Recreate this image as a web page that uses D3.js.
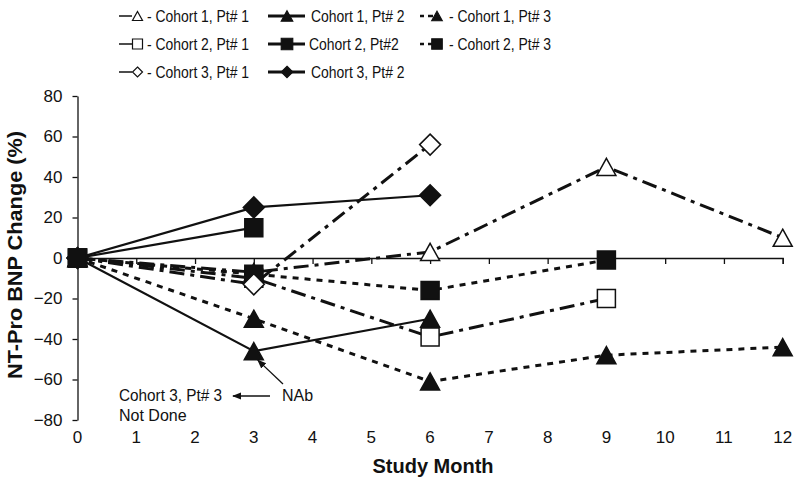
<!DOCTYPE html>
<html>
<head>
<meta charset="utf-8">
<script src="https://cdn.jsdelivr.net/npm/d3@7"></script>
<style>
  html, body { margin: 0; padding: 0; background: #fff; }
  svg { display: block; font-family: "Liberation Sans", Arial, sans-serif; }
</style>
</head>
<body>
<svg id="chart" width="800" height="485"></svg>
<script>
// ---- data ----
const months = [0, 3, 6, 9, 12];
const xTicks = [0, 1, 2, 3, 4, 5, 6, 7, 8, 9, 10, 11, 12];
const yTicks = [-80, -60, -40, -20, 0, 20, 40, 60, 80];

const c1p1 = [0, -7, 3, 45, 10];
const c1p2 = [0, -46, -30];
const c1p3 = [0, -30, -61, -48, -44];
const c2p1 = [0, -10, -39, -20];
const c2p2 = [0, 15];
const c2p3 = [0, -8, -16, -1];
const c3p1 = [0, -13, 56];
const c3p2 = [0, 25, 31];

const seriesLabels = ["Cohort 1, Pt# 1", "Cohort 1, Pt# 2", "Cohort 1, Pt# 3",
                      "Cohort 2, Pt# 1", "Cohort 2, Pt#2", "Cohort 2, Pt# 3",
                      "Cohort 3, Pt# 1", "Cohort 3, Pt# 2"];
const seriesValues = [c1p1, c1p2, c1p3, c2p1, c2p2, c2p3, c3p1, c3p2];
const seriesMarker = ["triangle", "triangle", "triangle", "square", "square", "square", "diamond", "diamond"];
const seriesFilled = [false, true, true, false, true, true, false, true];
const seriesStyle = ["dashdot", "solid", "dash", "dashdot", "solid", "dash", "dashdot", "solid"];

// ---- layout ----
const svg = d3.select("#chart");
const x = d3.scaleLinear().domain([0, 12]).range([77.5, 782.7]);
const y = d3.scaleLinear().domain([-80, 80]).range([420, 96]);
const ink = "#111";

const dashFor = { solid: null, dash: "6,6", dashdot: "15,6,4,6" };
const widthFor = { solid: 2.2, dash: 3, dashdot: 3 };

function markerPath(type, s) {
  if (type === "square") { const h = s / 2; return `M${-h},${-h}H${h}V${h}H${-h}Z`; }
  if (type === "triangle") { const w = s / 2, hh = s * 0.45; return `M0,${-hh}L${w},${hh}L${-w},${hh}Z`; }
  const d = s / 2; return `M0,${-d}L${d},0L0,${d}L${-d},0Z`;
}
const markerSize = { square: 18, triangle: 19, diamond: 21 };

// ---- axes ----
const gx = svg.append("g").attr("transform", `translate(0,${y(0)})`)
  .call(d3.axisBottom(x).tickValues(xTicks).tickSize(6).tickFormat(""));
gx.select(".domain").attr("stroke", ink).attr("stroke-width", 1.3);
gx.selectAll(".tick line").attr("stroke", ink).attr("stroke-width", 1.3);

svg.append("g").selectAll("text").data(xTicks).join("text")
  .attr("x", d => x(d)).attr("y", 443)
  .attr("text-anchor", "middle").attr("font-size", 17).attr("fill", ink)
  .text(d => d);

const gy = svg.append("g").attr("transform", `translate(${x(0)},0)`)
  .call(d3.axisLeft(y).tickValues(yTicks).tickSize(5).tickSizeOuter(0).tickPadding(10));
gy.select(".domain").attr("stroke", ink).attr("stroke-width", 1.3);
gy.selectAll(".tick line").attr("stroke", ink).attr("stroke-width", 1.3);
gy.selectAll(".tick text").attr("font-size", 17).attr("fill", ink)
  .attr("font-family", "\"Liberation Sans\", Arial, sans-serif");

svg.append("text").attr("transform", `translate(22,255) rotate(-90)`)
  .attr("text-anchor", "middle").attr("font-size", 20).attr("font-weight", "bold").attr("fill", ink)
  .attr("textLength", 248).attr("lengthAdjust", "spacingAndGlyphs")
  .text("NT-Pro BNP Change (%)");
svg.append("text").attr("x", 433).attr("y", 473)
  .attr("text-anchor", "middle").attr("font-size", 20).attr("font-weight", "bold").attr("fill", ink)
  .text("Study Month");

// ---- lines ----
const line = d3.line().x((d, i) => x(months[i])).y(d => y(d));
const drawOrder = [0, 3, 5, 1, 2, 4, 7, 6];
drawOrder.forEach(i => {
  svg.append("path").datum(seriesValues[i])
    .attr("d", line).attr("fill", "none").attr("stroke", ink)
    .attr("stroke-width", widthFor[seriesStyle[i]])
    .attr("stroke-dasharray", dashFor[seriesStyle[i]]);
});
// ---- markers ----
function drawMarkers(i, pts) {
  svg.append("g").selectAll("path").data(pts).join("path")
    .attr("transform", p => `translate(${x(months[p.k])},${y(p.v)})`)
    .attr("d", markerPath(seriesMarker[i], markerSize[seriesMarker[i]]))
    .attr("fill", seriesFilled[i] ? ink : "#fff")
    .attr("stroke", ink).attr("stroke-width", 1.5);
}
drawOrder.forEach(i => {
  drawMarkers(i, seriesValues[i].map((v, k) => ({ v, k })).filter(p => p.k > 0));
});
// baseline (month 0) markers: filled square ends up on top
[0, 3, 6, 2, 1, 7, 5, 4].forEach(i => {
  drawMarkers(i, [{ v: seriesValues[i][0], k: 0 }]);
});

// ---- annotation ----
svg.append("defs").append("marker").attr("id", "ah").attr("viewBox", "0 0 10 10")
  .attr("refX", 9).attr("refY", 5).attr("markerWidth", 7).attr("markerHeight", 7)
  .attr("orient", "auto-start-reverse")
  .append("path").attr("d", "M0,1L10,5L0,9Z").attr("fill", ink);
svg.append("text").attr("x", 282).attr("y", 401).attr("font-size", 16).attr("fill", ink).text("NAb");
svg.append("line").attr("x1", 270).attr("y1", 396).attr("x2", 233).attr("y2", 396)
  .attr("stroke", ink).attr("stroke-width", 1.3).attr("marker-end", "url(#ah)");
svg.append("line").attr("x1", 283).attr("y1", 384).attr("x2", x(3) + 4).attr("y2", y(-46) + 9)
  .attr("stroke", ink).attr("stroke-width", 1.3).attr("marker-end", "url(#ah)");
svg.append("text").attr("x", 119).attr("y", 401).attr("font-size", 16).attr("fill", ink)
  .attr("textLength", 103).attr("lengthAdjust", "spacingAndGlyphs").text("Cohort 3, Pt# 3");
svg.append("text").attr("x", 119).attr("y", 421).attr("font-size", 16).attr("fill", ink).text("Not Done");

// ---- legend ----
const legRowY = [16, 44, 72];
const legend = svg.append("g");
function legText(g, xx, yy, str) {
  g.append("text").attr("transform", `translate(${xx},${yy + 5.5}) scale(0.87,1)`)
    .attr("font-size", 16).attr("fill", ink).text(str);
}
seriesLabels.forEach((lab, i) => {
  const row = Math.floor(i / 3), col = i % 3;
  const cy = legRowY[row];
  const g = legend.append("g");
  const mfill = seriesFilled[i] ? ink : "#fff";
  if (col === 0) {
    g.append("line").attr("x1", 119).attr("x2", 132).attr("y1", cy).attr("y2", cy)
      .attr("stroke", ink).attr("stroke-width", 1.5);
    g.append("path").attr("transform", `translate(137.5,${cy})`)
      .attr("d", markerPath(seriesMarker[i], 10)).attr("fill", mfill).attr("stroke", ink).attr("stroke-width", 1.2);
    legText(g, 147, cy, "- " + lab);
  } else if (col === 1) {
    g.append("line").attr("x1", 268).attr("x2", 305).attr("y1", cy).attr("y2", cy)
      .attr("stroke", ink).attr("stroke-width", 3);
    g.append("path").attr("transform", `translate(287,${cy})`)
      .attr("d", markerPath(seriesMarker[i], 11.5)).attr("fill", mfill).attr("stroke", ink).attr("stroke-width", 1.2);
    legText(g, row === 1 ? 309 : 311, cy, lab);
  } else {
    g.append("line").attr("x1", 420).attr("x2", 424).attr("y1", cy).attr("y2", cy)
      .attr("stroke", ink).attr("stroke-width", 2.5);
    g.append("line").attr("x1", 428).attr("x2", 433).attr("y1", cy).attr("y2", cy)
      .attr("stroke", ink).attr("stroke-width", 2.5);
    g.append("path").attr("transform", `translate(437,${cy})`)
      .attr("d", markerPath(seriesMarker[i], 10.5)).attr("fill", mfill).attr("stroke", ink).attr("stroke-width", 1.2);
    legText(g, 449, cy, "- " + lab);
  }
});
</script>
</body>
</html>
